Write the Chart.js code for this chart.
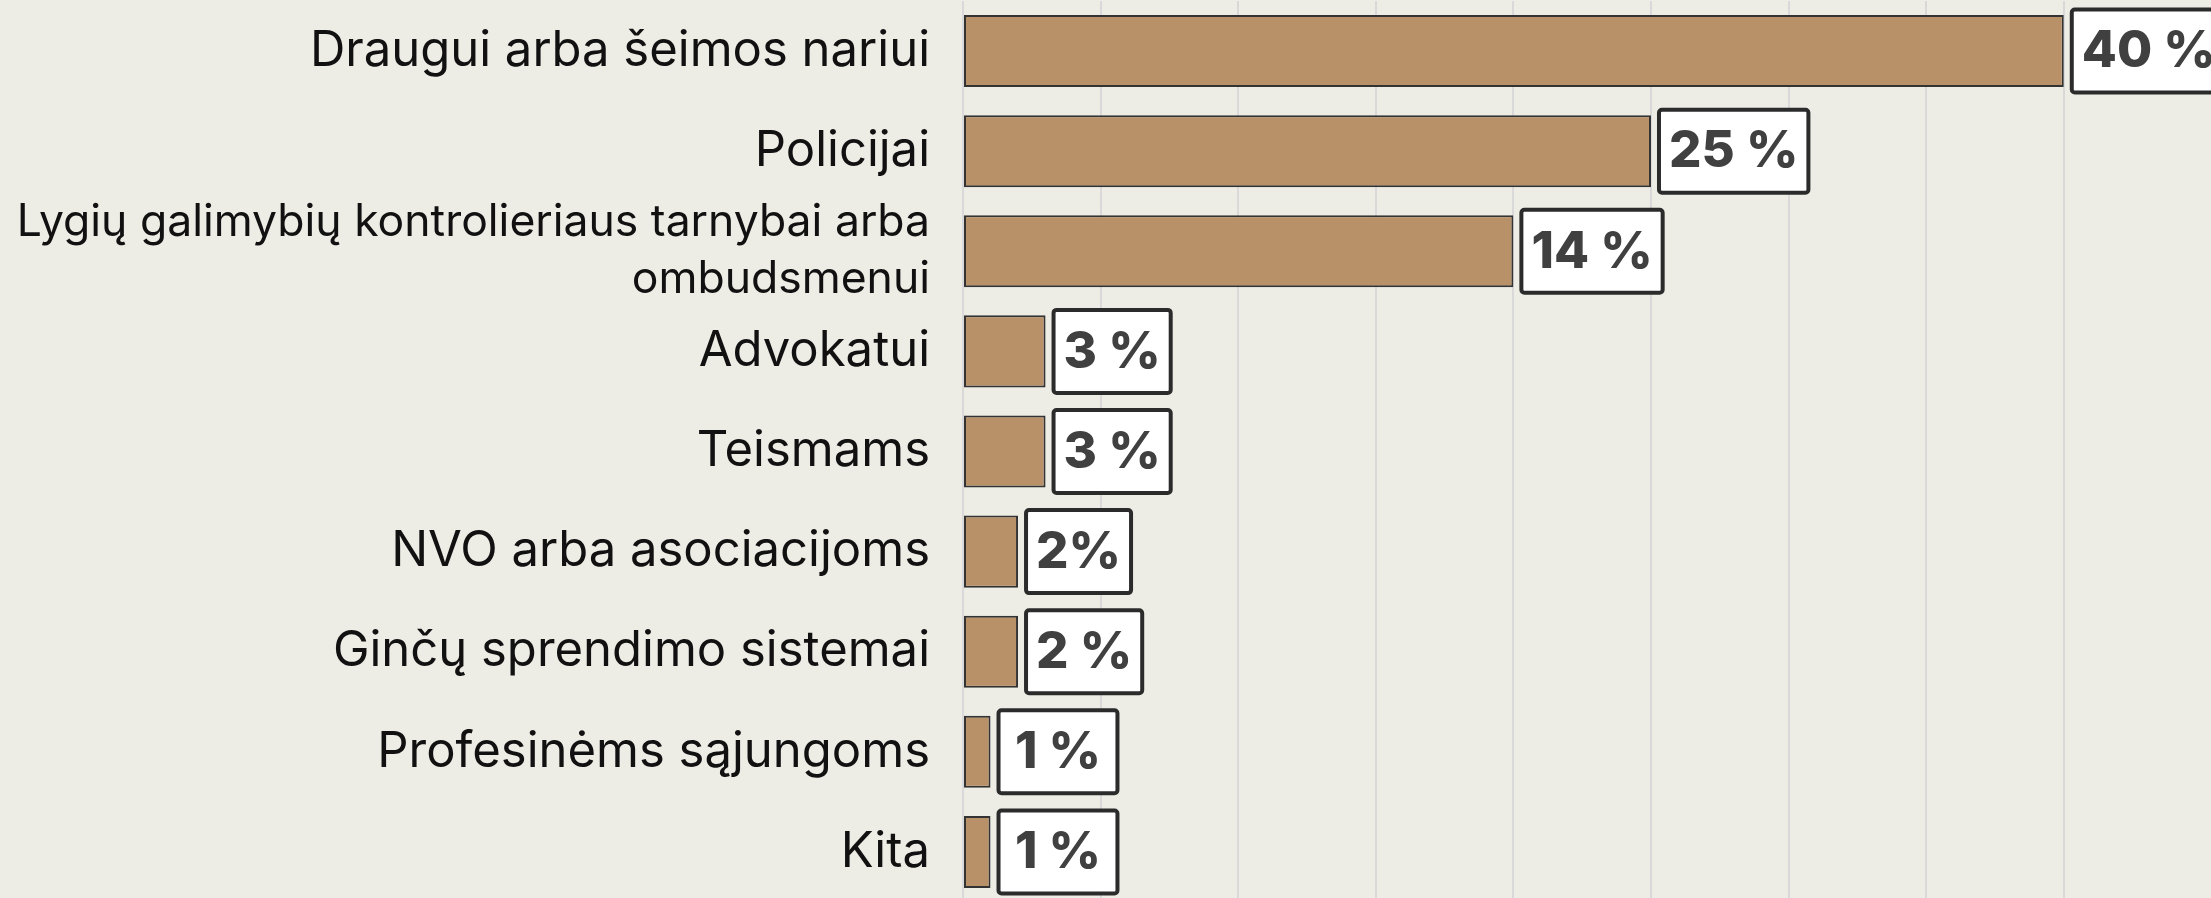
<!DOCTYPE html>
<html>
<head>
<meta charset="utf-8">
<script src="https://cdn.jsdelivr.net/npm/chart.js@4"></script>
<style>
    html, body { margin: 0; padding: 0; background: #edece5; overflow: hidden; }
    #wrap { width: 2211px; height: 902px; }
</style>
</head>
<body>
<div id="wrap"><canvas id="chart"></canvas></div>
<script>
const categories = [
    "Draugui arba šeimos nariui",
    "Policijai",
    ["Lygių galimybių kontrolieriaus tarnybai arba", "ombudsmenui"],
    "Advokatui",
    "Teismams",
    "NVO arba asociacijoms",
    "Ginčų sprendimo sistemai",
    "Profesinėms sąjungoms",
    "Kita"
];
// bar lengths as drawn in the picture
const values = [40, 25, 20, 3, 3, 2, 2, 1, 1];
// texts printed in the boxes
const valueLabels = ["40 %", "25 %", "14 %", "3 %", "3 %", "2%", "2 %", "1 %", "1 %"];
const xMax = 45.35;
const xStep = 5;

// white boxes with the percentages, to the right of each bar
const valueBoxes = {
    id: 'valueBoxes',
    afterDatasetsDraw(chart) {
        const ctx = chart.ctx;
        const meta = chart.getDatasetMeta(0);
        ctx.save();
        ctx.font = '800 51px Inter';
        meta.data.forEach((bar, i) => {
            const text = valueLabels[i];
            // a lone "1" gets a box as wide as the other one-digit ones
            const w = ctx.measureText(text.replace(/^1 /, '0 ')).width + 24;
            const h = 87;
            const x = bar.x + 6;
            const y = bar.y - h / 2;
            ctx.fillStyle = '#ffffff';
            ctx.strokeStyle = '#2b2b2b';
            ctx.lineWidth = 4;
            ctx.beginPath();
            ctx.roundRect(x + 2, y + 2, w - 4, h - 4, 3);
            ctx.fill();
            ctx.stroke();
            ctx.fillStyle = '#404040';
            ctx.textAlign = 'center';
            ctx.textBaseline = 'middle';
            ctx.fillText(text, x + w / 2, bar.y + 1);
        });
        ctx.restore();
    }
};

function draw() {
    const ctx = document.getElementById('chart').getContext('2d');
    new Chart(ctx, {
        type: 'bar',
        data: {
            labels: categories,
            datasets: [{
                data: values,
                backgroundColor: '#b99169',
                borderColor: '#333333',
                borderWidth: 2,
                borderSkipped: false,
                barPercentage: 0.72,
                categoryPercentage: 1
            }]
        },
        options: {
            indexAxis: 'y',
            responsive: true,
            maintainAspectRatio: false,
            animation: false,
            layout: { padding: { top: 1, left: 0, right: 0, bottom: 0 } },
            plugins: { legend: { display: false }, tooltip: { enabled: false } },
            scales: {
                x: {
                    min: 0,
                    max: xMax,
                    ticks: { display: false, stepSize: xStep },
                    grid: {
                        color: c => (c.tick && c.tick.value % xStep === 0) ? '#d9d9d9' : 'transparent',
                        lineWidth: 2,
                        drawTicks: false
                    },
                    border: { display: false },
                    afterFit: s => { s.height = 0; s.paddingLeft = 0; s.paddingRight = 0; }
                },
                y: {
                    ticks: {
                        color: '#111111',
                        // the wrapped label is set a bit smaller
                        font: c => Array.isArray(categories[c.index])
                            ? { family: 'Inter', size: 44.5, lineHeight: 1.28 }
                            : { family: 'Inter', size: 49 },
                        padding: 33,
                        autoSkip: false
                    },
                    grid: { display: false, drawTicks: false },
                    border: { display: false },
                    afterFit: s => { s.width = 963; s.paddingTop = 0; s.paddingBottom = 0; }
                }
            }
        },
        plugins: [valueBoxes]
    });
}

Promise.all([
    document.fonts.load('800 51px Inter'),
    document.fonts.load('49px Inter')
]).then(draw, draw);
</script>
</body>
</html>
